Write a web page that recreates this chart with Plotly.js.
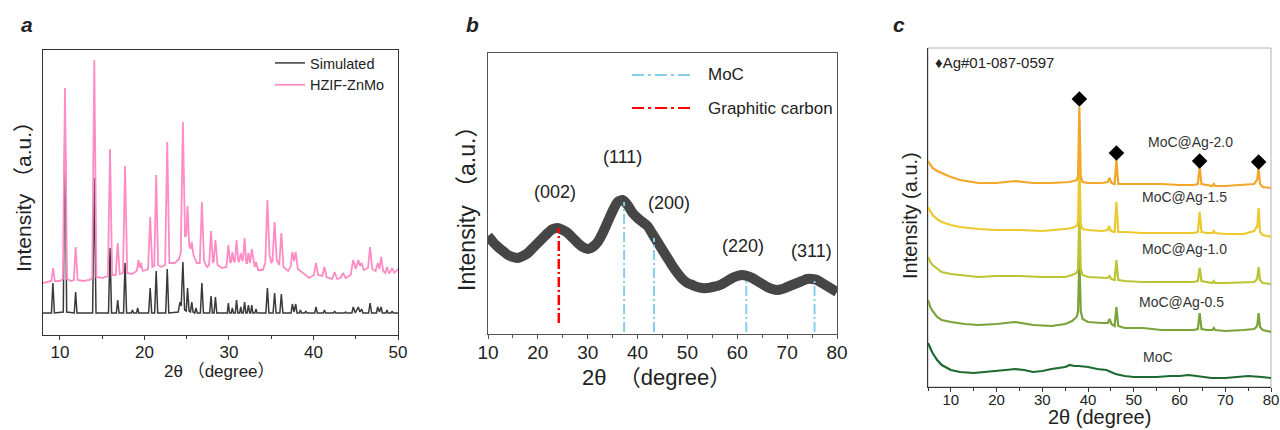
<!DOCTYPE html>
<html>
<head>
<meta charset="utf-8">
<script src="https://cdn.plot.ly/plotly-3.0.1.min.js"></script>
<style>html,body{margin:0;padding:0;background:#fff;}#chart{width:1280px;height:430px;}</style>
</head>
<body>
<div id="chart"></div>
<script>
// ---------- Panel a: HZIF-ZnMo vs simulated pattern (2θ in degree, intensity a.u.) ----------
const aSimX = [8,
  9.0, 9.17, 9.35, 10.4, 10.6, 10.8, 11.7, 11.86, 12.02, 13.87, 14.07, 14.27,
  15.75, 15.93, 16.11, 16.68, 16.84, 17.0, 17.53, 17.71, 17.89, 18.45, 18.58, 18.71,
  19.07, 19.2, 19.33, 20.5, 20.68, 20.86, 21.21, 21.39, 21.57, 22.52, 22.7, 22.88,
  24.0, 24.2, 24.35, 24.55, 24.75, 24.95, 25.1, 25.28, 25.45, 25.6, 25.75, 25.95, 26.1, 26.25,
  26.62, 26.8, 26.98, 27.72, 27.88, 28.04, 28.24, 28.4, 28.56,
  29.8, 29.93, 30.06, 30.27, 30.4, 30.53, 30.75, 30.9, 31.05, 31.27, 31.4, 31.53,
  31.7, 31.85, 32.0, 32.15, 32.3, 32.45, 32.57, 32.7, 32.83, 33.07, 33.2, 33.33,
  34.37, 34.55, 34.73, 35.22, 35.4, 35.58, 36.02, 36.2, 36.38,
  37.35, 37.5, 37.7, 37.9, 38.05, 38.32, 38.45, 38.58, 38.97, 39.1, 39.23,
  40.15, 40.3, 40.45, 41.17, 41.3, 41.43, 42.37, 42.5, 42.63, 43.67, 43.8, 43.93,
  44.55, 44.7, 44.95, 45.3, 45.5, 45.7, 45.85, 46.52, 46.7, 46.88,
  47.45, 47.6, 47.8, 48.0, 48.15, 48.57, 48.7, 48.83, 49.17, 49.3, 49.43, 50];
const aSimY = [22,
  22, 52, 22, 23, 228, 23, 22, 43, 22, 22, 157, 22,
  22, 87, 22, 22, 35, 22, 22, 72, 22, 22, 25, 22,
  22, 27, 22, 22, 47, 22, 22, 64, 22, 22, 66, 22,
  23, 33, 29, 73, 25, 24, 47, 24, 23, 33, 23, 22, 27, 22,
  22, 52, 22, 22, 39, 22, 22, 38, 22,
  22, 32, 22, 22, 27, 22, 22, 35, 22, 22, 28, 22,
  22, 33, 22, 22, 30, 22, 22, 30, 22, 22, 26, 22,
  22, 47, 22, 22, 42, 22, 22, 41, 22,
  22, 31, 23, 31, 22, 22, 25, 22, 22, 24, 22,
  22, 28, 22, 22, 25, 22, 22, 24, 22, 22, 23, 22,
  22, 28, 22, 28, 23, 26, 22, 22, 32, 22,
  22, 28, 23, 28, 22, 22, 25, 22, 22, 24, 22, 22];

const aHzifX = [8, 8.5,
  9.0, 9.2, 9.4, 10.0, 10.35, 10.6, 10.85, 11.3, 11.65, 11.86, 12.1, 12.8,
  13.5, 13.82, 14.07, 14.32, 15.0, 15.68, 15.93, 16.18, 16.6, 16.84, 17.08,
  17.46, 17.71, 17.96, 18.5, 19.1, 19.3, 19.45, 19.6, 19.8, 20.43, 20.68, 20.93,
  21.16, 21.39, 21.62, 22.0, 22.45, 22.7, 22.95, 23.6, 24.1, 24.3, 24.55, 24.8,
  24.95, 25.1, 25.3, 25.45, 25.6, 25.8, 26.2, 26.55, 26.8, 27.05, 27.4, 27.65,
  27.88, 28.1, 28.2, 28.4, 28.65, 29.2, 29.7, 29.93, 30.15, 30.25, 30.4, 30.6,
  30.72, 30.9, 31.1, 31.2, 31.4, 31.6, 31.68, 31.85, 32.05, 32.15, 32.3, 32.5,
  32.7, 32.95, 33.05, 33.2, 33.45, 34.0, 34.3, 34.55, 34.8, 35.0, 35.15, 35.4,
  35.65, 35.95, 36.2, 36.45, 37.0, 37.3, 37.5, 37.7, 37.9, 38.15, 38.8, 39.5,
  40.05, 40.3, 40.55, 41.05, 41.3, 41.55, 42.2, 42.5, 42.8, 43.2, 43.5, 43.8,
  44.4, 44.7, 45.0, 45.3, 45.5, 45.7, 45.95, 46.45, 46.7, 46.95, 47.35, 47.6,
  47.8, 48.0, 48.25, 48.5, 48.7, 48.95, 49.1, 49.3, 49.55, 50];
const aHzifY = [52, 53,
  54, 67, 54, 54, 56, 247, 56, 54, 55, 88, 55, 54,
  55, 57, 275, 58, 57, 59, 186, 60, 60, 92, 61,
  62, 169, 62, 61, 64, 75, 67, 72, 64, 66, 118, 68,
  69, 160, 70, 68, 70, 193, 72, 72, 76, 82, 213, 98,
  100, 129, 90, 86, 93, 80, 72, 72, 133, 74, 68, 70,
  104, 72, 74, 95, 70, 67, 68, 90, 72, 73, 83, 73,
  74, 95, 74, 73, 82, 74, 76, 97, 72, 72, 82, 72,
  86, 70, 68, 73, 65, 65, 72, 135, 80, 72, 74, 113,
  75, 70, 102, 68, 64, 68, 83, 74, 83, 66, 62, 57,
  60, 72, 60, 59, 68, 58, 56, 63, 56, 57, 62, 57,
  60, 75, 66, 75, 69, 72, 65, 67, 88, 66, 64, 72,
  66, 78, 64, 62, 68, 62, 63, 67, 62, 66];

// ---------- Panel b: MoC pattern with reference positions ----------
const bTheta = [10, 11, 12, 13, 14, 15, 16, 17, 18, 19, 20, 21, 22, 23, 24, 25, 26, 27, 28, 29,
  30, 31, 32, 33, 34, 35, 36, 37, 38, 39, 40, 41, 42, 43, 44, 45, 46, 47, 48, 49,
  50, 51, 52, 53, 54, 55, 56, 57, 58, 59, 60, 61, 62, 63, 64, 65, 66, 67, 68, 69,
  70, 71, 72, 73, 74, 75, 76, 77, 78, 79, 80];
const bIntensity = [98, 92, 87, 83, 79, 77, 76, 78, 81, 86, 91, 96, 101, 105, 106, 104, 101, 96, 91, 87,
  85, 87, 92, 101, 112, 123, 132, 134, 129, 121, 116, 112, 108, 100, 92, 84, 76, 68, 61, 55,
  51, 49, 47, 46, 46, 47, 48, 50, 53, 56, 58, 59, 58, 56, 53, 50, 47, 45, 44, 45,
  47, 49, 51, 53, 55, 55, 54, 51, 48, 45, 42];
const bGraphitePos = [24.2];
const bGraphiteTop = [106];
const bGraphiteBottom = [11];
const bMoCPos = [37.3, 43.3, 61.8, 75.5];
const bMoCTop = [132, 96, 56, 54];
const bMoCBottom = [2, 2, 2, 2];
const bPlaneLabels = ['(002)', '(111)', '(200)', '(220)', '(311)'];
const bPlaneX = [23.4, 36.9, 46.3, 61.1, 74.8];
const bPlaneY = [142, 177, 131, 88, 83];

// ---------- Panel c: MoC@Ag series ----------
const cMoCX = [5, 5.5, 6, 7, 8, 10, 12, 15, 18, 20, 22, 24, 26, 28, 30, 32, 34, 35, 36, 37, 38,
  40, 42, 44, 46, 48, 50, 55, 58, 60, 62, 64, 67, 70, 72, 75, 78, 80];
const cMoCY = [44, 39, 34, 27, 22, 17, 15, 14, 15, 16, 17, 18, 17, 15, 16, 18, 19, 20, 22, 21, 21,
  20, 18, 17, 13, 11, 10, 10, 11, 11, 12, 11, 9, 9, 10, 11, 10, 9];

const cAg05X = [5, 5.5, 6, 7, 8, 10, 13, 16, 20, 24, 28, 32, 35, 36.5, 37.5, 37.8, 38.1, 38.4, 38.8,
  40, 43, 44.3, 44.7, 45.1, 45.8, 46.2, 46.6, 48, 52, 56, 60, 63, 64.0, 64.4, 64.8,
  66, 67.2, 67.5, 67.8, 70, 74, 76.3, 76.8, 77.0, 77.3, 77.6, 78.2, 80];
const cAg05Y = [87, 80, 76, 70, 67, 65, 63, 62, 63, 65, 62, 61, 63, 66, 70, 75, 128, 76, 68,
  65, 64, 64, 68, 63, 61, 80, 61, 59, 59, 57, 57, 57, 58, 74, 58,
  57, 57, 59, 57, 56, 57, 58, 60, 62, 74, 60, 57, 55];

const cAg10X = [5, 5.5, 6, 7, 8, 10, 12, 16, 20, 25, 30, 35, 36.5, 37.5, 37.8, 38.1, 38.4, 38.8,
  40, 43, 44.3, 44.7, 45.1, 45.8, 46.2, 46.6, 48, 52, 56, 60, 63, 64.0, 64.4, 64.8,
  66, 67.2, 67.5, 67.8, 70, 74, 76.3, 76.8, 77.0, 77.3, 77.6, 78.2, 80];
const cAg10Y = [130, 125, 122, 118, 115, 113, 112, 110, 111, 111, 110, 110, 112, 114, 118, 175, 118, 112,
  110, 109, 109, 111, 108, 107, 127, 107, 106, 105, 105, 105, 105, 106, 119, 106,
  105, 104, 106, 104, 104, 105, 105, 107, 109, 120, 107, 104, 103];

const cAg15X = [5, 5.5, 6, 7, 8, 10, 12, 16, 20, 25, 30, 35, 36.5, 37.5, 37.8, 38.1, 38.4, 38.8,
  40, 43, 44.3, 44.6, 45.0, 45.8, 46.2, 46.6, 48, 52, 56, 60, 63, 64.0, 64.4, 64.8,
  66, 67.2, 67.5, 67.8, 70, 74, 76.3, 76.7, 77.0, 77.3, 77.6, 78.2, 80];
const cAg15Y = [180, 176, 172, 168, 165, 162, 160, 158, 157, 157, 156, 158, 159, 161, 165, 225, 163, 158,
  157, 156, 157, 161, 156, 155, 185, 155, 155, 154, 154, 154, 154, 155, 175, 155,
  154, 154, 156, 154, 153, 153, 156, 159, 160, 179, 155, 152, 150];

const cAg20X = [5, 5.5, 6, 7, 8, 10, 12, 16, 20, 24, 28, 32, 36, 37.5, 37.8, 38.1, 38.4, 38.8,
  40, 43, 44.3, 44.7, 45.1, 45.8, 46.2, 46.6, 48, 52, 56, 60, 63, 64.0, 64.4, 64.8,
  66, 67.2, 67.5, 67.8, 70, 74, 76.3, 76.8, 77.0, 77.3, 77.6, 78.2, 80];
const cAg20Y = [226, 222, 219, 216, 214, 210, 207, 204, 204, 206, 204, 204, 205, 207, 211, 280, 210, 205,
  204, 204, 205, 209, 204, 203, 227, 203, 203, 203, 203, 202, 202, 203, 220, 203,
  202, 201, 203, 201, 201, 202, 203, 206, 208, 219, 203, 200, 199];

const cAgMarkX = [38.1, 46.2, 64.4, 77.3];
const cAgMarkY = [288, 234, 226, 225];
const cSeriesNames = ['MoC', 'MoC@Ag-0.5', 'MoC@Ag-1.0', 'MoC@Ag-1.5', 'MoC@Ag-2.0'];
const cLabelX = [55.2, 60.4, 61.1, 61.1, 62.5];
const cLabelY = [30, 85, 138, 190, 245];
const cColors = ['#1f6a30', '#7aa33a', '#bcc435', '#ecc92e', '#f2a72a'];

// ---------- build ----------
const FONT = 'Arial, "Liberation Sans", "Noto Sans CJK SC", sans-serif';
const W = 1280, H = 430;
const px = v => v / W, py = v => 1 - v / H;

const traces = [];
traces.push({x: aSimX, y: aSimY, xaxis: 'x', yaxis: 'y', mode: 'lines', name: 'Simulated',
  line: {color: '#3a3a3a', width: 1.5}, legend: 'legend'});
traces.push({x: aHzifX, y: aHzifY, xaxis: 'x', yaxis: 'y', mode: 'lines', name: 'HZIF-ZnMo',
  line: {color: '#ff8cc4', width: 1.8}, legend: 'legend'});

traces.push({x: bTheta, y: bIntensity, xaxis: 'x2', yaxis: 'y2', mode: 'lines', showlegend: false,
  line: {color: '#464646', width: 10, shape: 'spline', smoothing: 0.6}});
bGraphitePos.forEach((p, i) => traces.push({x: [p, p], y: [bGraphiteBottom[i], bGraphiteTop[i]],
  xaxis: 'x2', yaxis: 'y2', mode: 'lines', showlegend: false,
  line: {color: '#ff0000', width: 2.5, dash: '10px,3px,2px,3px'}}));
bMoCPos.forEach((p, i) => traces.push({x: [p, p], y: [bMoCBottom[i], bMoCTop[i]],
  xaxis: 'x2', yaxis: 'y2', mode: 'lines', showlegend: false,
  line: {color: '#87ceeb', width: 2, dash: '10px,3px,2px,3px'}}));

const cX = [cMoCX, cAg05X, cAg10X, cAg15X, cAg20X];
const cY = [cMoCY, cAg05Y, cAg10Y, cAg15Y, cAg20Y];
cX.forEach((xs, i) => traces.push({x: xs, y: cY[i], xaxis: 'x3', yaxis: 'y3', mode: 'lines',
  name: cSeriesNames[i], showlegend: false, line: {color: cColors[i], width: 2.2}}));
traces.push({x: cAgMarkX, y: cAgMarkY, xaxis: 'x3', yaxis: 'y3', mode: 'markers', showlegend: false,
  marker: {symbol: 'diamond', size: 12, color: '#000'}});

function xax(dom, range, tickSize, lineColor, mirror, standoff) {
  return {domain: dom, range: range, dtick: 10, tick0: 0, ticks: 'outside', ticklen: 4,
    tickcolor: lineColor, showline: true, mirror: mirror, linecolor: lineColor, linewidth: 1.3,
    showgrid: false, zeroline: false, tickfont: {size: tickSize, color: '#222', family: FONT},
    ticklabelstandoff: standoff,
    minor: {dtick: 5, tick0: 0, ticks: 'outside', ticklen: 2.5, tickcolor: lineColor}, fixedrange: true};
}
function yax(dom, range, lineColor, mirror) {
  return {domain: dom, range: range, showticklabels: false, ticks: '', showline: true, mirror: mirror,
    linecolor: lineColor, linewidth: 1.3, showgrid: false, zeroline: false, fixedrange: true};
}

const ann = [];
const txt = (text, x, y, size, extra) => ann.push(Object.assign({text: text, x: x, y: y, xref: 'paper', yref: 'paper',
  xanchor: 'center', yanchor: 'middle', showarrow: false,
  font: {size: size, color: '#222', family: FONT}}, extra || {}));
txt('<b><i>a</i></b>', px(27), py(25), 21);
txt('<b><i>b</i></b>', px(472), py(24), 21);
txt('<b><i>c</i></b>', px(899), py(25), 21);
txt('2θ\u00a0（degree）', px(219), py(371), 17);
txt('Intensity （a.u.）', px(23), py(192), 21, {textangle: -90});
txt('2θ\u00a0\u00a0（degree）', px(656), py(377), 22);
txt('Intensity （a.u.）', px(467), py(203), 23, {textangle: -90});
txt('2θ (degree)', px(1099), py(417), 20);
txt('Intensity (a.u.)', px(910), py(216), 20, {textangle: -90});
txt('MoC', px(706), py(75), 17, {xanchor: 'left'});
txt('Graphitic carbon', px(706), py(108), 17, {xanchor: 'left'});
txt('♦Ag#01-087-0597', px(933), py(62), 15, {xanchor: 'left'});
bPlaneLabels.forEach((t, i) => ann.push({text: t, x: bPlaneX[i], y: bPlaneY[i], xref: 'x2', yref: 'y2',
  xanchor: 'center', yanchor: 'middle', showarrow: false, font: {size: 18, color: '#222', family: FONT}}));
cSeriesNames.forEach((t, i) => ann.push({text: t, x: cLabelX[i], y: cLabelY[i], xref: 'x3', yref: 'y3',
  xanchor: 'center', yanchor: 'middle', showarrow: false, font: {size: 14, color: '#333', family: FONT}}));

const shapes = [
  {type: 'line', xref: 'paper', yref: 'paper', x0: px(632), x1: px(692), y0: py(75), y1: py(75),
    line: {color: '#87ceeb', width: 2, dash: '12px,4px,3px,4px'}},
  {type: 'line', xref: 'paper', yref: 'paper', x0: px(632), x1: px(692), y0: py(108), y1: py(108),
    line: {color: '#ff0000', width: 2, dash: '12px,4px,3px,4px'}},
  {type: 'rect', xref: 'paper', yref: 'paper', x0: px(928), x1: px(1271), y0: py(387), y1: py(48),
    line: {color: '#b0b0b0', width: 1}, layer: 'below'}
];

const layout = {
  width: W, height: H, margin: {l: 0, r: 0, t: 0, b: 0}, paper_bgcolor: '#fff', plot_bgcolor: 'rgba(0,0,0,0)',
  font: {family: FONT, color: '#222'},
  showlegend: true,
  legend: {x: px(270), y: py(47), xanchor: 'left', yanchor: 'top', bgcolor: 'rgba(0,0,0,0)',
    font: {size: 14.5, color: '#222', family: FONT}, tracegroupgap: 0},
  xaxis: xax([px(43), px(398)], [8, 50], 17, '#333', true, -3),
  yaxis: yax([py(335), py(50)], [0, 285], '#333', true),
  xaxis2: Object.assign(xax([px(488), px(837)], [10, 80], 19, '#555', true, -3), {anchor: 'y2'}),
  yaxis2: Object.assign(yax([py(334), py(53)], [0, 281], '#555', true), {anchor: 'x2'}),
  xaxis3: Object.assign(xax([px(928), px(1271)], [5, 80], 15, '#333', false, -5), {anchor: 'y3'}),
  yaxis3: Object.assign(yax([py(387), py(48)], [0, 339], '#333', false), {anchor: 'x3'}),
  annotations: ann, shapes: shapes
};
layout.xaxis.anchor = 'y';
layout.yaxis.anchor = 'x';

Plotly.newPlot('chart', traces, layout, {staticPlot: true, displayModeBar: false});
</script>
</body>
</html>
